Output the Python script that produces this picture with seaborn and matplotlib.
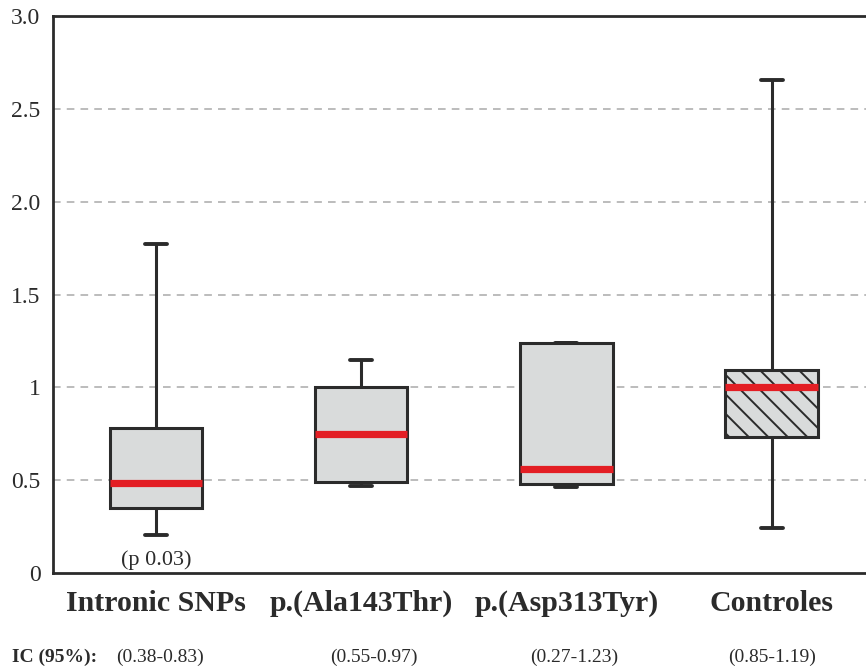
import numpy as np
import pandas as pd
import matplotlib
matplotlib.use('Agg')
import matplotlib.pyplot as plt
from matplotlib.lines import Line2D
from matplotlib.transforms import IdentityTransform, blended_transform_factory
import seaborn as sns

# five-number summaries: low whisker, Q1, median, Q3, high whisker
groups = ['Intronic SNPs', 'p.(Ala143Thr)', 'p.(Asp313Tyr)', 'Controles']
intronic = [0.205, 0.35, 0.485, 0.78, 1.77]
ala143 = [0.47, 0.49, 0.75, 1.0, 1.147]
asp313 = [0.465, 0.48, 0.56, 1.24, 1.24]
controles = [0.245, 0.732, 1.0, 1.093, 2.655]
ic_labels = ['(0.38-0.83)', '(0.55-0.97)', '(0.27-1.23)', '(0.85-1.19)']
y_ticks = [0, 0.5, 1, 1.5, 2.0, 2.5, 3.0]
y_ticklabels = ['0', '0.5', '1', '1.5', '2.0', '2.5', '3.0']
p_label = '(p 0.03)'

df = pd.DataFrame({
    'group': np.repeat(groups, 5),
    'value': intronic + ala143 + asp313 + controles,
})

sns.set_style('white')
plt.rcParams['font.family'] = ['Liberation Serif', 'DejaVu Serif']
dark = '#2b2b2b'

fig = plt.figure(figsize=(8.66, 6.71), dpi=100)
ax = fig.add_axes([0.0612, 0.146, 0.9388, 0.830])

sns.boxplot(data=df, x='group', y='value', order=groups, ax=ax,
            whis=(0, 100), width=0.45, color='#d9dbdb', saturation=1,
            linecolor=dark, linewidth=2.2, showfliers=False,
            medianprops={'color': '#e31e24', 'linewidth': 5.2, 'solid_capstyle': 'butt'})

# shorter caps
for ln in ax.lines:
    xd, yd = np.asarray(ln.get_xdata(), float), np.asarray(ln.get_ydata(), float)
    if len(xd) == 2 and yd[0] == yd[1] and (xd.max() - xd.min()) < 0.3 and ln.get_color() != '#e31e24':
        c = xd.mean()
        ln.set_xdata([c - 0.054, c + 0.054])
        ln.set_linewidth(2.8)

ax.set_xlim(-0.502, 3.46)
ax.set_ylim(0, 3.0)
ax.set_yticks(y_ticks)
ax.set_yticklabels(y_ticklabels, fontsize=17, color=dark)
ax.set_xticks(range(len(groups)))
ax.set_xticklabels(groups, fontsize=21.5, fontweight='bold', color=dark)
ax.tick_params(axis='both', length=0)
ax.tick_params(axis='y', pad=9)
ax.tick_params(axis='x', pad=12)
ax.set_xlabel('')
ax.set_ylabel('')

# diagonal hatching on the control box, drawn in pixel space so the spacing is fixed
box = ax.patches[-1]
bb = box.get_window_extent(fig.canvas.get_renderer())
step = 19.5
for c in np.arange(bb.x0 + bb.y0 + 4, bb.x1 + bb.y1, step):
    hl = Line2D([c - bb.y1, c - bb.y0], [bb.y1, bb.y0], transform=IdentityTransform(),
                color=dark, lw=1.4, zorder=2.05)
    hl.set_clip_path(box)
    ax.add_line(hl)

for y in y_ticks[1:-1]:
    ax.axhline(y, color='#aaaaaa', lw=1.1, ls=(0, (5, 4)), zorder=0)

for side in ['left', 'top', 'bottom']:
    ax.spines[side].set_color(dark)
    ax.spines[side].set_linewidth(2.0)
ax.spines['right'].set_visible(False)

ax.text(0, 0.07, p_label, ha='center', va='center', fontsize=16, color=dark)

trans = blended_transform_factory(ax.transData, fig.transFigure)
fig.text(0.014, 0.021, 'IC (95%):', ha='left', va='center', fontsize=14, fontweight='bold', color=dark)
ic_offsets = [0.02, 0.06, 0.04, 0.0]
for i, lab in enumerate(ic_labels):
    ax.text(i + ic_offsets[i], 0.021, lab, transform=trans, ha='center', va='center',
            fontsize=14, color=dark, clip_on=False)

fig.savefig('out.png', dpi=100)
